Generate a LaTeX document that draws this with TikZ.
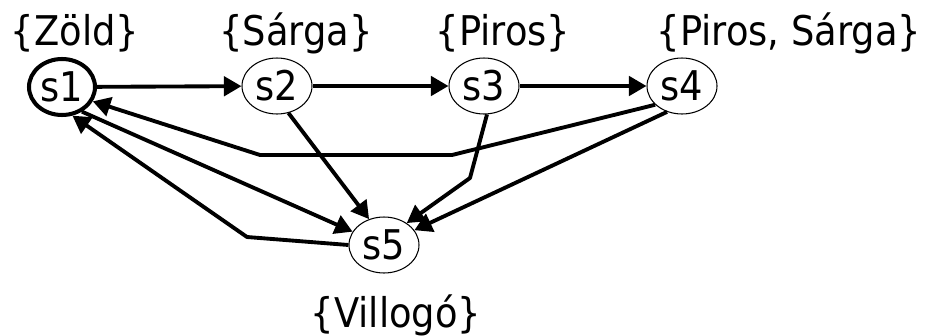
\documentclass[tikz,border=0pt]{standalone}
\usepackage{fontspec}
\setmainfont{DejaVu Sans Condensed}
\usetikzlibrary{arrows.meta,shapes.geometric}

\begin{document}
\begin{tikzpicture}[x=0.02cm,y=-0.02cm,line join=round,
    every node/.style={font=\fontsize{23.3pt}{28pt}\selectfont},
    state/.style={draw,ellipse,inner sep=0pt,minimum width=1.4cm,minimum height=1.12cm,line width=0.6pt},
    label set/.style={anchor=base,inner sep=0pt},
    trans/.style={-{Triangle[length=10pt,width=11pt]},line width=2.2pt}]
    \useasboundingbox (0,0) rectangle (929,335);
    % allapotok
    \node[state,line width=2.3pt,minimum width=1.32cm] (s1) at (62,87) {s1};
    \node[state] (s2) at (277,86) {s2};
    \node[state] (s3) at (484,86) {s3};
    \node[state] (s4) at (682,86) {s4};
    \node[state] (s5) at (384,245) {s5};
    % cimkek
    \node[label set] (l1) at (75,45) {\{Zöld\}};
    \node[label set] (l2) at (296,45) {\{Sárga\}};
    \node[label set] (l3) at (503,45) {\{Piros\}};
    \node[label set] (l4) at (789,45) {\{Piros, Sárga\}};
    \node[label set] (l5) at (396,327) {\{Villogó\}};
    % toresek
    \coordinate (b1) at (452,155);
    \coordinate (b2) at (260,155);
    \coordinate (b3) at (470,178);
    \coordinate (b4) at (247,237);
    % atmenetek
    \draw[trans] (s1) -- (s2);
    \draw[trans] (s2) -- (s3);
    \draw[trans] (s3) -- (s4);
    \draw[trans] (s4.-145) -- (b1) -- (b2) -- (s1.-25);
    \draw[trans] (s2.-67) -- (s5.120);
    \draw[trans] (s3.-84) -- (b3) -- (s5.44);
    \draw[trans] (s4.-120) -- (s5.26);
    \draw[trans] (s1.-51) -- (s5.157);
    \draw[trans] (s5.west) -- (b4) -- (s1.-70);
\end{tikzpicture}
\end{document}
